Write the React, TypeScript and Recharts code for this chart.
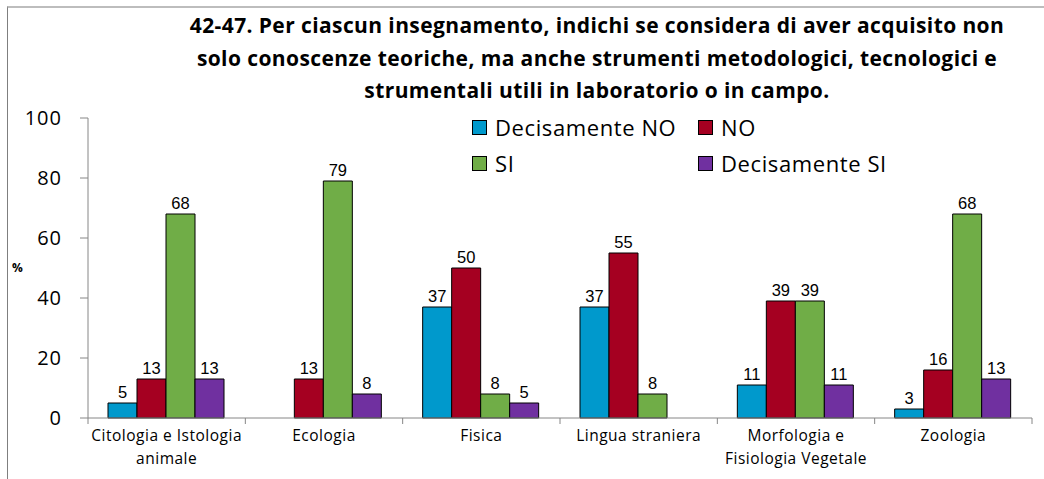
import React from 'react';
import { BarChart, Bar, XAxis, YAxis, LabelList, Label } from 'recharts';

const categories = [
  'Citologia e Istologia\nanimale',
  'Ecologia',
  'Fisica',
  'Lingua straniera',
  'Morfologia e\nFisiologia Vegetale',
  'Zoologia',
];
const decisamenteNo = [5, null, 37, 37, 11, 3];
const no = [13, 13, 50, 55, 39, 16];
const si = [68, 79, 8, 8, 39, 68];
const decisamenteSi = [13, 8, 5, null, 11, 13];
const yTicks = [0, 20, 40, 60, 80, 100];

const titleLines = [
  '42-47. Per ciascun insegnamento, indichi se considera di aver acquisito non',
  'solo conoscenze teoriche, ma anche strumenti metodologici, tecnologici e',
  'strumentali utili in laboratorio o in campo.',
];

const series = [
  { key: 'dNo', name: 'Decisamente NO', color: '#0099CC' },
  { key: 'no', name: 'NO', color: '#A50021' },
  { key: 'si', name: 'SI', color: '#70AD47' },
  { key: 'dSi', name: 'Decisamente SI', color: '#7030A0' },
];

const data = categories.map((cat, i) => ({
  cat,
  dNo: decisamenteNo[i],
  no: no[i],
  si: si[i],
  dSi: decisamenteSi[i],
}));

const AXIS = '#868686';
const SANS = '"Open Sans", sans-serif';
const TICK_SIZE = 6;

// category labels, plus the boundary tick marks Excel draws between groups
const CategoryTick = (props: any) => {
  const { x, y, payload, index, visibleTicksCount, width } = props;
  const lines = String(payload.value).split('\n');
  const band = width && visibleTicksCount ? width / visibleTicksCount : 0;
  const y0 = y - 4;
  return (
    <g>
      {band > 0 && (
        <line x1={x - band / 2} x2={x - band / 2} y1={y0} y2={y0 + TICK_SIZE} stroke={AXIS} />
      )}
      {band > 0 && index === visibleTicksCount - 1 && (
        <line x1={x + band / 2} x2={x + band / 2} y1={y0} y2={y0 + TICK_SIZE} stroke={AXIS} />
      )}
      <text
        x={x}
        y={y}
        textAnchor="middle"
        fontFamily={SANS}
        fontSize={15.5}
        letterSpacing={0.5}
        fill="#000"
      >
        {lines.map((l, i) => (
          <tspan key={i} x={x} dy={i === 0 ? 19 : 23}>
            {l}
          </tspan>
        ))}
      </text>
    </g>
  );
};

export default function App() {
  return (
    <div
      style={{
        position: 'absolute',
        left: 0,
        top: 0,
        width: 1044,
        height: 479,
        background: '#fff',
        overflow: 'hidden',
      }}
    >
      <div
        style={{
          position: 'absolute',
          left: 7,
          top: 6,
          right: 0,
          bottom: 0,
          borderTop: '2px solid #BDBDBD',
          borderLeft: '1px solid #7F7F7F',
        }}
      />
      <div
        style={{
          position: 'absolute',
          left: 150,
          top: 9,
          width: 894,
          textAlign: 'center',
          fontFamily: SANS,
          fontWeight: 700,
          fontSize: 21,
          lineHeight: '32.5px',
          letterSpacing: 0.4,
          whiteSpace: 'nowrap',
        }}
      >
        {titleLines.map((t) => (
          <div key={t}>{t}</div>
        ))}
      </div>
      <div style={{ position: 'absolute', left: 0, top: 0 }}>
        <BarChart
          width={1044}
          height={479}
          data={data}
          margin={{ top: 118, right: 12, bottom: 11, left: 8 }}
          barCategoryGap={20}
          barGap={0}
        >
          <XAxis
            dataKey="cat"
            type="category"
            height={50}
            axisLine={{ stroke: AXIS }}
            tickLine={false}
            tick={<CategoryTick />}
            interval={0}
            tickSize={0}
            tickMargin={4}
          />
          <YAxis
            domain={[0, 100]}
            ticks={yTicks}
            width={80}
            tickSize={8}
            tickMargin={18}
            axisLine={{ stroke: AXIS }}
            tickLine={{ stroke: AXIS }}
            tick={{ fill: '#000', fontFamily: SANS, fontSize: 20, letterSpacing: 1 }}
          >
            <Label
              value="%"
              position="insideLeft"
              offset={4}
              style={{ fontFamily: SANS, fontSize: 12, fontWeight: 700, fill: '#000' }}
            />
          </YAxis>
          {series.map((s) => (
            <Bar
              key={s.key}
              dataKey={s.key}
              name={s.name}
              fill={s.color}
              stroke="#000"
              strokeWidth={1}
              isAnimationActive={false}
            >
              <LabelList
                dataKey={s.key}
                position="top"
                offset={5}
                style={{ fontFamily: '"Liberation Sans", Arial, sans-serif', fontSize: 16.5, fill: '#000' }}
              />
            </Bar>
          ))}
        </BarChart>
      </div>
      <div
        style={{
          position: 'absolute',
          left: 472,
          top: 112,
          display: 'grid',
          gridTemplateColumns: '226px 220px',
          rowGap: 6,
          fontFamily: SANS,
          fontSize: 22,
          letterSpacing: 0.6,
        }}
      >
        {series.map((s) => (
          <div key={s.key} style={{ display: 'flex', alignItems: 'center', height: 30 }}>
            <span
              style={{
                width: 13,
                height: 13,
                background: s.color,
                border: '1px solid #000',
                marginRight: 8,
                display: 'inline-block',
              }}
            />
            <span>{s.name}</span>
          </div>
        ))}
      </div>
    </div>
  );
}
